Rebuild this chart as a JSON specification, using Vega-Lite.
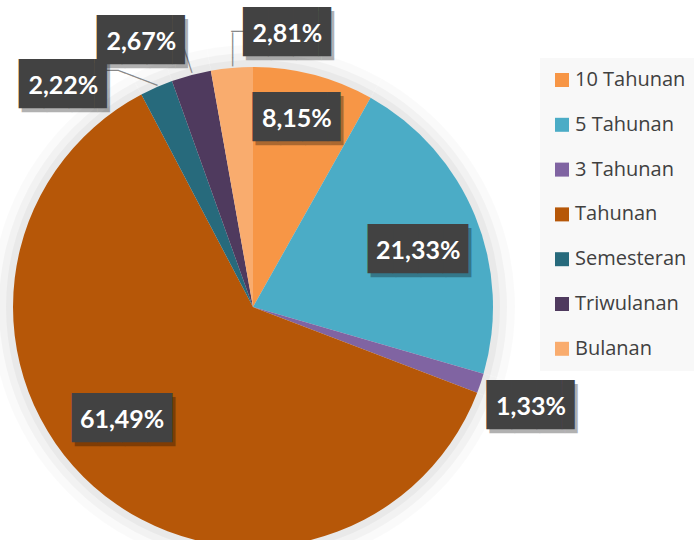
{
  "$schema": "https://vega.github.io/schema/vega-lite/v6.json",
  "width": 506,
  "height": 614,
  "autosize": "none",
  "padding": {"left": 0, "top": 0, "right": 188, "bottom": 0},
  "background": "white",
  "view": {"stroke": null},
  "data": {
    "values": [
      {"kategori": "10 Tahunan", "nilai": 8.15, "label": "8,15%", "urut": 1},
      {"kategori": "5 Tahunan", "nilai": 21.33, "label": "21,33%", "urut": 2},
      {"kategori": "3 Tahunan", "nilai": 1.33, "label": "1,33%", "urut": 3},
      {"kategori": "Tahunan", "nilai": 61.49, "label": "61,49%", "urut": 4},
      {"kategori": "Semesteran", "nilai": 2.22, "label": "2,22%", "urut": 5},
      {"kategori": "Triwulanan", "nilai": 2.67, "label": "2,67%", "urut": 6},
      {"kategori": "Bulanan", "nilai": 2.81, "label": "2,81%", "urut": 7}
    ]
  },
  "encoding": {
    "theta": {"field": "nilai", "type": "quantitative", "stack": true},
    "order": {"field": "urut", "type": "quantitative"}
  },
  "layer": [
    {
      "mark": {"type": "arc", "outerRadius": 262, "color": "#000000", "opacity": 0.02}
    },
    {
      "mark": {"type": "arc", "outerRadius": 254, "color": "#000000", "opacity": 0.03}
    },
    {
      "mark": {"type": "arc", "outerRadius": 247, "color": "#000000", "opacity": 0.035}
    },
    {
      "mark": {"type": "arc", "outerRadius": 240},
      "encoding": {
        "color": {
          "field": "kategori",
          "type": "nominal",
          "scale": {
            "domain": ["10 Tahunan", "5 Tahunan", "3 Tahunan", "Tahunan", "Semesteran", "Triwulanan", "Bulanan"],
            "range": ["#F79646", "#4BACC6", "#8064A2", "#B65708", "#276A7C", "#4F3A5E", "#F9AC6E"]
          },
          "legend": {
            "orient": "none",
            "legendX": 540,
            "legendY": 58,
            "title": null,
            "symbolType": "square",
            "symbolSize": 196,
            "symbolStrokeWidth": 0,
            "labelFont": "Open Sans",
            "labelFontSize": 20,
            "labelColor": "#404040",
            "labelOffset": 3,
            "labelLimit": 300,
            "rowPadding": 24.8,
            "padding": 12,
            "fillColor": "#f8f8f8"
          }
        }
      }
    },
    {
      "mark": {
        "type": "text",
        "font": "DejaVu Sans Mono",
        "fontSize": 14,
        "color": "#888888",
        "align": "center",
        "baseline": "middle",
        "radius": {"expr": "datum.nilai > 5 ? 185 : 290"},
        "angle": {"expr": "datum.kategori === 'Bulanan' ? 90 : datum.kategori === 'Triwulanan' ? 72 : 21"},
        "dx": {"expr": "datum.kategori === 'Bulanan' ? 31.3 : datum.kategori === 'Triwulanan' ? 35.3 : 14.3"},
        "dy": {"expr": "datum.kategori === 'Bulanan' ? -4.8 : datum.kategori === 'Triwulanan' ? 2 : 34.2"}
      },
      "encoding": {
        "text": {
          "condition": [
            {"test": "datum.kategori === 'Bulanan'", "value": "────"},
            {"test": "datum.kategori === 'Triwulanan'", "value": "───"},
            {"test": "datum.kategori === 'Semesteran'", "value": "─────"}
          ],
          "value": ""
        }
      }
    },
    {
      "mark": {
        "type": "text",
        "font": "DejaVu Sans Mono",
        "fontSize": 14,
        "color": "#888888",
        "align": "center",
        "baseline": "middle",
        "radius": {"expr": "datum.nilai > 5 ? 185 : 290"},
        "dx": {"expr": "datum.kategori === 'Bulanan' ? 12.3 : -26.4"},
        "dy": {"expr": "datum.kategori === 'Bulanan' ? 13.8 : 29.6"}
      },
      "encoding": {
        "text": {
          "condition": [
            {"test": "datum.kategori === 'Bulanan'", "value": "──"},
            {"test": "datum.kategori === 'Semesteran'", "value": "──"}
          ],
          "value": ""
        }
      }
    },
    {
      "mark": {
        "type": "text",
        "font": "DejaVu Sans Mono",
        "fontSize": 41.5,
        "color": "#000000",
        "opacity": 0.3,
        "align": "center",
        "baseline": "middle",
        "radius": {"expr": "datum.nilai > 5 ? 185 : 290"},
        "dx": {"expr": "3 + (length(datum.label) > 5 ? 0 : 6) + (datum.kategori === '10 Tahunan' ? -3 : datum.kategori === '5 Tahunan' ? -6 : datum.kategori === '3 Tahunan' ? 3 : datum.kategori === 'Tahunan' ? -8 : datum.kategori === 'Semesteran' ? -73 : datum.kategori === 'Triwulanan' ? -37 : 60)"},
        "dy": {"expr": "4 + (datum.kategori === '10 Tahunan' ? -9 : datum.kategori === '5 Tahunan' ? 14 : datum.kategori === '3 Tahunan' ? 8 : datum.kategori === 'Tahunan' ? -25 : datum.kategori === 'Semesteran' ? 44 : datum.kategori === 'Triwulanan' ? 15 : 16)"}
      },
      "encoding": {
        "text": {"condition": {"test": "length(datum.label) > 5", "value": "████"}, "value": "███▌"}
      }
    },
    {
      "mark": {
        "type": "text",
        "font": "DejaVu Sans Mono",
        "fontSize": 41.5,
        "color": "#424242",
        "align": "center",
        "baseline": "middle",
        "radius": {"expr": "datum.nilai > 5 ? 185 : 290"},
        "dx": {"expr": "(length(datum.label) > 5 ? 0 : 6) + (datum.kategori === '10 Tahunan' ? -3 : datum.kategori === '5 Tahunan' ? -6 : datum.kategori === '3 Tahunan' ? 3 : datum.kategori === 'Tahunan' ? -8 : datum.kategori === 'Semesteran' ? -73 : datum.kategori === 'Triwulanan' ? -37 : 60)"},
        "dy": {"expr": "(datum.kategori === '10 Tahunan' ? -9 : datum.kategori === '5 Tahunan' ? 14 : datum.kategori === '3 Tahunan' ? 8 : datum.kategori === 'Tahunan' ? -25 : datum.kategori === 'Semesteran' ? 44 : datum.kategori === 'Triwulanan' ? 15 : 16)"}
      },
      "encoding": {
        "text": {"condition": {"test": "length(datum.label) > 5", "value": "████"}, "value": "███▌"}
      }
    },
    {
      "mark": {
        "type": "text",
        "font": "Lato",
        "fontWeight": "bold",
        "fontSize": 25,
        "color": "#ffffff",
        "align": "center",
        "baseline": "middle",
        "radius": {"expr": "datum.nilai > 5 ? 185 : 290"},
        "dx": {"expr": "(datum.kategori === '10 Tahunan' ? -3 : datum.kategori === '5 Tahunan' ? -6 : datum.kategori === '3 Tahunan' ? 3 : datum.kategori === 'Tahunan' ? -8 : datum.kategori === 'Semesteran' ? -73 : datum.kategori === 'Triwulanan' ? -37 : 60)"},
        "dy": {"expr": "(datum.kategori === '10 Tahunan' ? -9 : datum.kategori === '5 Tahunan' ? 14 : datum.kategori === '3 Tahunan' ? 8 : datum.kategori === 'Tahunan' ? -25 : datum.kategori === 'Semesteran' ? 44 : datum.kategori === 'Triwulanan' ? 15 : 16)"}
      },
      "encoding": {
        "text": {"field": "label", "type": "nominal"}
      }
    }
  ]
}
